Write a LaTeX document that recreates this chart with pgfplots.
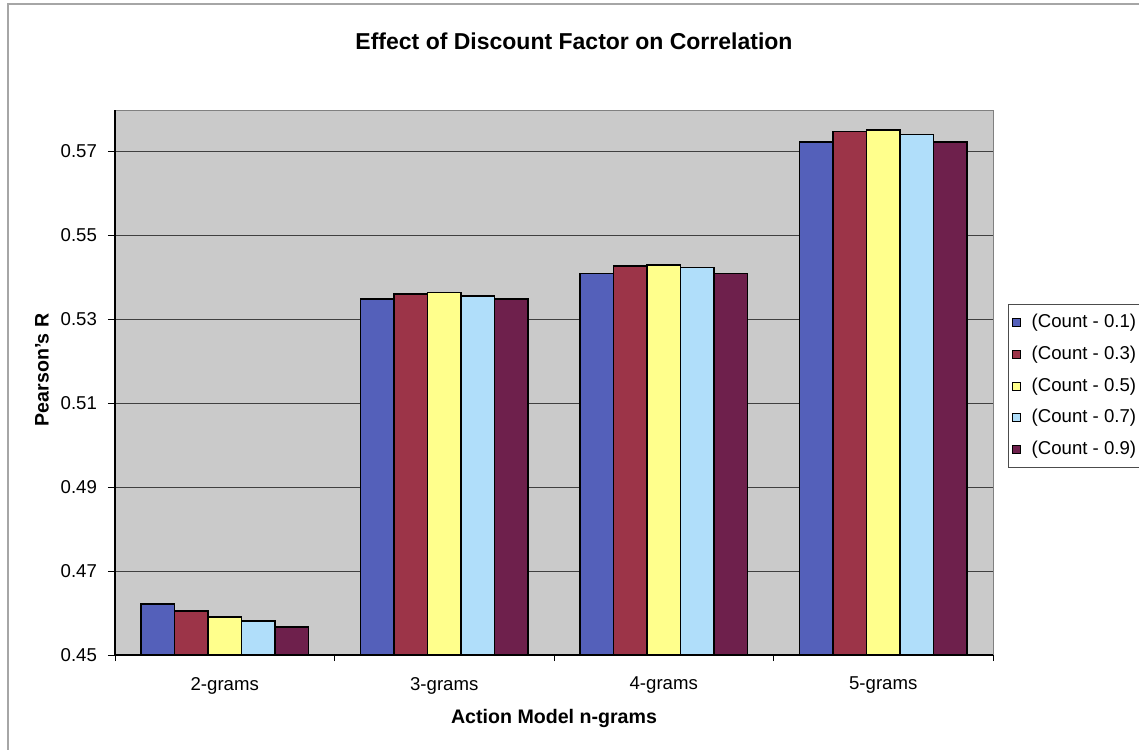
\documentclass[border=0pt]{standalone}
\usepackage{fontspec}
\setmainfont{Liberation Sans}
\usepackage{pgfplots}
\pgfplotsset{compat=1.18}

\definecolor{cA}{RGB}{84,96,186}
\definecolor{cB}{RGB}{156,52,72}
\definecolor{cC}{RGB}{255,255,140}
\definecolor{cD}{RGB}{176,222,250}
\definecolor{cE}{RGB}{110,32,76}
\definecolor{plotbg}{RGB}{202,202,202}

\begin{document}
\begin{tikzpicture}
\begin{axis}[
  at={(0,0)}, anchor=south west,
  scale only axis,
  width=439pt, height=272.5pt,
  /pgf/number format/assume math mode=true,
  ybar=0pt, bar width=16.75pt,
  xmin=-0.5, xmax=3.5,
  ymin=0.45, ymax=0.5798,
  xtick={0,1,2,3},
  xticklabels={2-grams,3-grams,4-grams,5-grams},
  minor xtick={-0.5,0.5,1.5,2.5,3.5},
  ytick={0.45,0.47,0.49,0.51,0.53,0.55,0.57},
  yticklabel style={xshift=-2pt, /pgf/number format/.cd,fixed,fixed zerofill,precision=2},
  tick label style={font=\fontsize{9.3}{11}\selectfont},
  tick align=outside,
  major tick length=3.5pt, minor tick length=3pt,
  x tick style={draw=none},
  minor x tick style={draw=black, line width=0.4pt},
  y tick style={draw=black, line width=0.4pt},
  xticklabel style={yshift=-4pt},
  axis x line*=bottom, axis y line*=left,
  axis line style={-, black, line width=0.6pt},
  axis background/.style={fill=plotbg, draw=gray},
  ymajorgrids=true,
  grid style={black!75, line width=0.5pt},
  xlabel={\bfseries Action Model n-grams},
  ylabel={\bfseries Pearson's R},
  xlabel style={font=\fontsize{9.8}{12}\selectfont, at={(axis description cs:0.5,-0.1156)}, anchor=center},
  ylabel style={font=\fontsize{9.8}{12}\selectfont, at={(axis description cs:-0.0831,0.523)}, anchor=center},
  every axis plot/.append style={draw=black, line width=0.8pt},
  legend style={at={(1.0171,0.644)}, anchor=north west, draw=black!70, fill=white,
    font=\fontsize{9.3}{11}\selectfont, row sep=3.6pt, inner xsep=2pt, inner ysep=3pt},
  legend cell align=left,
  legend image code/.code={\draw[#1, line width=0.5pt] (1pt,-2pt) rectangle (5pt,2pt);
    \path (8pt,0pt);},
]
\addplot[fill=cA] coordinates {(0,0.4621) (1,0.5348) (2,0.5409) (3,0.5722)};
\addplot[fill=cB] coordinates {(0,0.4605) (1,0.5360) (2,0.5426) (3,0.5747)};
\addplot[fill=cC] coordinates {(0,0.4591) (1,0.5363) (2,0.5429) (3,0.5751)};
\addplot[fill=cD] coordinates {(0,0.4581) (1,0.5355) (2,0.5423) (3,0.5740)};
\addplot[fill=cE] coordinates {(0,0.4567) (1,0.5348) (2,0.5409) (3,0.5722)};
\legend{(Count - 0.1),(Count - 0.3),(Count - 0.5),(Count - 0.7),(Count - 0.9)}
\end{axis}
\node[anchor=base, font=\bfseries\fontsize{11.5}{14}\selectfont] at (229.5pt,302.5pt)
  {Effect of Discount Factor on Correlation};
\draw[gray!70, line width=0.6pt] (-53.5pt,-60pt) -- (-53.5pt,325.5pt) -- (530pt,325.5pt);
\pgfresetboundingbox
\path[use as bounding box] (-57.5pt,-47pt) rectangle (512pt,327.5pt);
\end{tikzpicture}
\end{document}
